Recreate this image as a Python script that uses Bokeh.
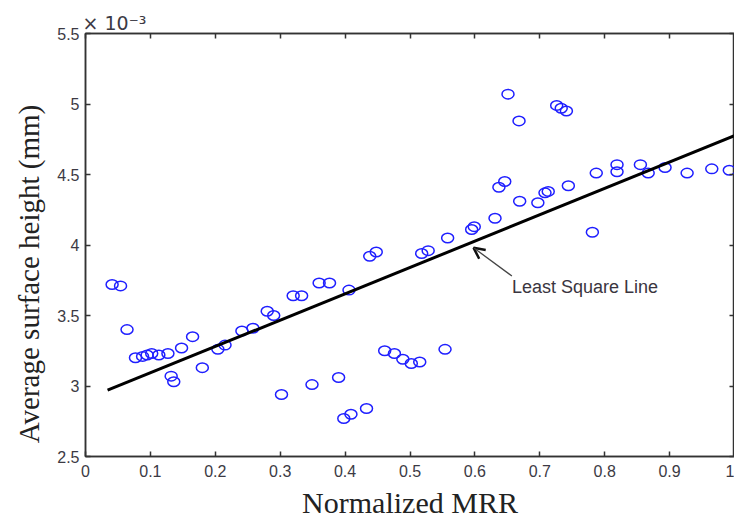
from bokeh.plotting import figure
from bokeh.models import (Label, Arrow, OpenHead, LinearAxis, FixedTicker, Range1d,
                          ColumnDataSource, CustomJSTickFormatter)
from bokeh.embed import file_html
from bokeh.resources import INLINE

# ---- data (surface height in units of 1e-3 mm) ----
mrr = [0.041, 0.054, 0.064, 0.077, 0.088, 0.095, 0.102, 0.113, 0.127, 0.132,
       0.136, 0.148, 0.165, 0.180, 0.204, 0.215, 0.241, 0.258, 0.280, 0.290,
       0.302, 0.320, 0.333, 0.349, 0.360, 0.376, 0.390, 0.398, 0.406, 0.409,
       0.433, 0.438, 0.448, 0.461, 0.476, 0.489, 0.502, 0.515, 0.518, 0.528,
       0.554, 0.558, 0.595, 0.599, 0.631, 0.637, 0.646, 0.651, 0.668, 0.669,
       0.697, 0.708, 0.713, 0.726, 0.733, 0.741, 0.744, 0.781, 0.787, 0.819,
       0.819, 0.855, 0.867, 0.893, 0.927, 0.965, 0.992]
height = [3.72, 3.71, 3.40, 3.20, 3.21, 3.22, 3.23, 3.22, 3.23, 3.07,
          3.03, 3.27, 3.35, 3.13, 3.26, 3.29, 3.39, 3.41, 3.53, 3.50,
          2.94, 3.64, 3.64, 3.01, 3.73, 3.73, 3.06, 2.77, 3.68, 2.80,
          2.84, 3.92, 3.95, 3.25, 3.23, 3.19, 3.16, 3.17, 3.94, 3.96,
          3.26, 4.05, 4.11, 4.13, 4.19, 4.41, 4.45, 5.07, 4.88, 4.31,
          4.30, 4.37, 4.38, 4.99, 4.97, 4.95, 4.42, 4.09, 4.51, 4.57,
          4.52, 4.57, 4.51, 4.55, 4.51, 4.54, 4.53]

fit_x = [0.034, 1.0]
fit_y = [2.97, 4.775]

arrow_tip = (0.598, 3.98)
arrow_tail = (0.657, 3.78)
annotation_text = "Least Square Line"
scale_text = "× 10⁻³"
x_title = "Normalized MRR"
y_title = "Average surface height (mm)"

x_ticks = [0, 0.1, 0.2, 0.3, 0.4, 0.5, 0.6, 0.7, 0.8, 0.9, 1]
x_tick_labels = ["0", "0.1", "0.2", "0.3", "0.4", "0.5", "0.6", "0.7", "0.8", "0.9", "1"]
y_ticks = [2.5, 3, 3.5, 4, 4.5, 5, 5.5]
y_tick_labels = ["2.5", "3", "3.5", "4", "4.5", "5", "5.5"]

TICK_COLOR = "#3c3a44"
SERIF = "Liberation Serif"
SANS = "Liberation Sans"

p = figure(width=734, height=521, x_range=Range1d(0, 1), y_range=Range1d(2.5, 5.5),
           output_backend="svg", toolbar_location=None,
           min_border_left=85, min_border_top=33, min_border_right=0, min_border_bottom=10,
           x_axis_label=x_title,
           y_axis_label=y_title + "\u00a0" * 8)
p.xgrid.visible = False
p.ygrid.visible = False
p.outline_line_color = "#333333"
p.outline_line_width = 1.5
p.background_fill_color = "white"
p.border_fill_color = "white"

p.title.text = scale_text
p.title.align = "left"
p.title.text_font = "DejaVu Sans"
p.title.text_font_size = "19px"
p.title.text_font_style = "normal"
p.title.text_color = TICK_COLOR
p.title.offset = -3
p.title.standoff = 0

def style(ax, ticks, labels, show_labels=True):
    ax.ticker = FixedTicker(ticks=ticks)
    ax.major_tick_in = 5
    ax.major_tick_out = 0
    ax.minor_tick_in = 0
    ax.minor_tick_out = 0
    ax.axis_line_color = "#333333"
    ax.axis_line_width = 1.5
    ax.major_tick_line_color = "#333333"
    ax.major_tick_line_width = 1.5
    if show_labels:
        ax.major_label_overrides = {t: l for t, l in zip(ticks, labels)}
        ax.major_label_text_font = SANS
        ax.major_label_text_font_size = "16px"
        ax.major_label_text_color = TICK_COLOR
        ax.major_label_standoff = 6
    else:
        ax.formatter = CustomJSTickFormatter(code="return ''")
        ax.major_label_standoff = 0
        ax.major_label_text_font_size = "1px"

style(p.xaxis[0], x_ticks, x_tick_labels)
style(p.yaxis[0], y_ticks, y_tick_labels)
p.xaxis[0].major_label_standoff = 8
p.xaxis[0].axis_label_text_font = SERIF
p.xaxis[0].axis_label_text_font_size = "30px"
p.xaxis[0].axis_label_text_font_style = "normal"
p.xaxis[0].axis_label_text_color = "#222222"
p.xaxis[0].axis_label_standoff = 6
p.yaxis[0].axis_label_text_font = SERIF
p.yaxis[0].axis_label_text_font_size = "29px"
p.yaxis[0].axis_label_text_font_style = "normal"
p.yaxis[0].axis_label_text_color = "#222222"
p.yaxis[0].axis_label_standoff = 9

top = LinearAxis()
style(top, x_ticks, x_tick_labels, show_labels=False)
p.add_layout(top, "above")
right = LinearAxis()
style(right, y_ticks, y_tick_labels, show_labels=False)
p.add_layout(right, "right")

src = ColumnDataSource(dict(x=mrr, y=height))
p.ellipse(x="x", y="y", width=12, height=9.5, width_units="screen", height_units="screen",
          source=src, fill_color=None, line_color="#1f1fff", line_width=1.5)

p.line(fit_x, fit_y, line_color="black", line_width=3)

p.add_layout(Arrow(end=OpenHead(size=11, line_width=2.5, line_color="#111111"),
                   x_start=arrow_tail[0], y_start=arrow_tail[1],
                   x_end=arrow_tip[0], y_end=arrow_tip[1],
                   line_color="#444444", line_width=1.3))
p.add_layout(Label(x=arrow_tail[0], y=3.70, text=annotation_text, text_font=SANS,
                   text_font_size="18px", text_color="#3a3540",
                   text_baseline="middle", text_align="left"))

open("out.html", "w").write(file_html(p, INLINE))
